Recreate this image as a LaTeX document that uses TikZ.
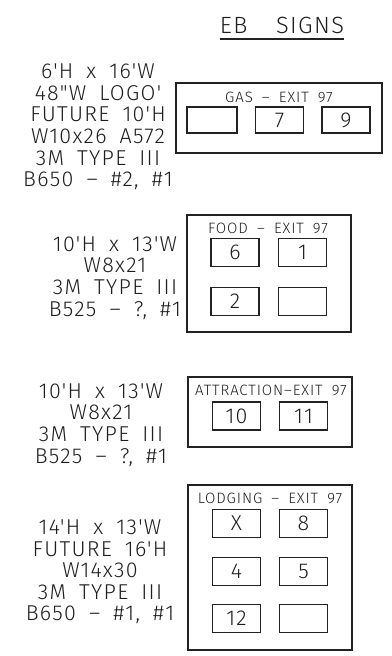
\documentclass[tikz,border=0pt]{standalone}
\usepackage{fontspec}
\setmainfont{Fira Sans Light}[Ligatures=TeXOff, LetterSpace=6, WordSpace=1.8]
\usepackage{tikz}
\usetikzlibrary{positioning}
\definecolor{inkgray}{HTML}{1E1E1E}
\definecolor{linegray}{HTML}{222222}

\tikzset{
  heading/.style={text=inkgray, font=\fontsize{23.5}{23.5}\selectfont, inner sep=0pt},
  spec/.style={align=center, text=inkgray, font=\fontsize{21.5}{21.6}\selectfont, inner sep=0pt},
  panel/.style={draw=linegray, line width=2pt, minimum width=164pt, inner sep=0pt},
  panelhead/.style={text=inkgray, font=\fontsize{15}{15}\selectfont, inner sep=0pt},
  slot/.style={draw=linegray, line width=1.6pt, minimum width=48pt, minimum height=28pt,
    inner sep=0pt, text=inkgray, font=\fontsize{21.5}{21.5}\selectfont}
}

\begin{document}
\begin{tikzpicture}[x=1pt, y=-1pt]
  \useasboundingbox (0,0) rectangle (391,656);

  \node[heading] (title) at (282,25) {EB\ \ SIGNS};
  \draw[linegray, line width=1.2pt] ([yshift=-6pt]title.base west) -- ([yshift=-6pt]title.base east);

  % gas
  \node[panel, minimum width=206pt, minimum height=70pt] (gas) at (279,118) {};
  \node[panelhead] (gashead) at (279,97) {GAS – EXIT 97};
  \node[slot, minimum width=50pt, minimum height=26pt] (gas1) at (212,120) {};
  \node[slot, minimum height=26pt] (gas2) at (279.5,120) {7};
  \node[slot, minimum height=26pt] (gas3) at (346,120) {9};
  \node[spec] (gasspec) at (98,127)
    {6'H x 16'W\\48"W LOGO'\\FUTURE 10'H\\W10x26 A572\\3M TYPE III\\B650 – \#2, \#1};

  % food
  \node[panel, minimum height=117pt] (food) at (269,273.5) {};
  \node[panelhead] (foodhead) at (268,228) {FOOD – EXIT 97};
  \node[slot] (food1) at (235,252.5) {6};
  \node[slot] (food2) at (302.5,252.5) {1};
  \node[slot] (food3) at (235,301.5) {2};
  \node[slot] (food4) at (302.5,301.5) {};
  \node[spec] (foodspec) at (115,278)
    {10'H x 13'W\\W8x21\\3M TYPE III\\B525 – ?, \#1};

  % attraction
  \node[panel, minimum height=70pt] (attr) at (270,412) {};
  \node[panelhead] (attrhead) at (271,390) {ATTRACTION–EXIT 97};
  \node[slot] (attr1) at (236.5,416) {10};
  \node[slot] (attr2) at (303.5,416) {11};
  \node[spec] (attrspec) at (101,425)
    {10'H x 13'W\\W8x21\\3M TYPE III\\B525 – ?, \#1};

  % lodging
  \node[panel, minimum height=165pt] (lodging) at (270,567.5) {};
  \node[panelhead] (lodginghead) at (270,498) {LODGING – EXIT 97};
  \foreach \y/\a/\b [count=\r] in {523.5/X/8, 571.5/4/5, 618.5/12/{}}
  {
    \node[slot] (lodging\r a) at (236.5,\y) {\a};
    \node[slot] (lodging\r b) at (303.5,\y) {\b};
  }
  \node[spec] (lodgingspec) at (100,572)
    {14'H x 13'W\\FUTURE 16'H\\W14x30\\3M TYPE III\\B650 – \#1, \#1};
\end{tikzpicture}
\end{document}
